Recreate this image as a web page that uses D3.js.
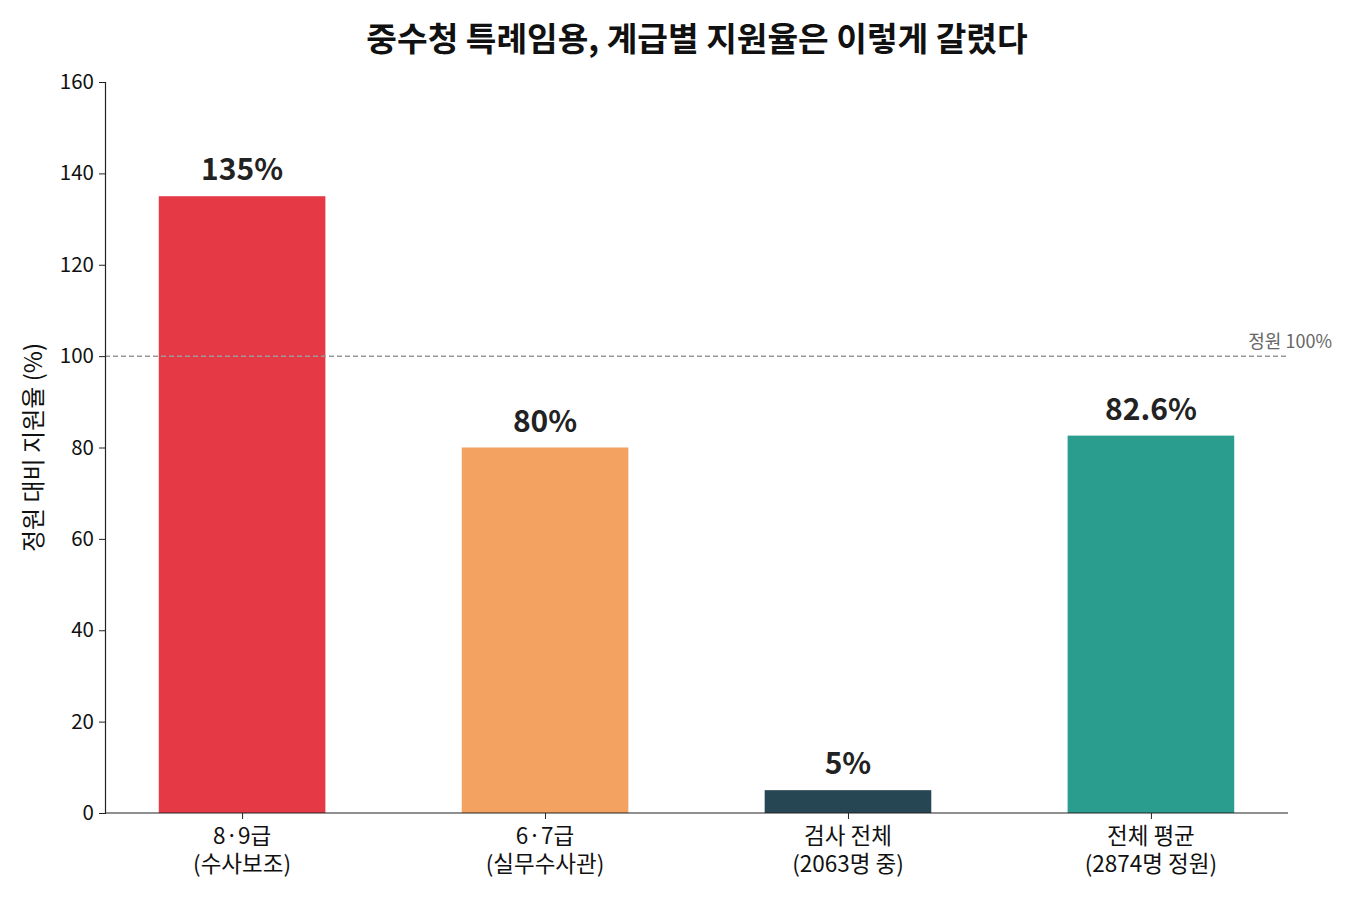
<!DOCTYPE html>
<html><head><meta charset="utf-8">
<script src="https://cdn.jsdelivr.net/npm/d3@7"></script>
<style>body{margin:0;background:#fff;font-family:"Noto Sans CJK KR","Noto Sans",sans-serif;}</style>
</head><body><svg id="c" width="1350" height="900"></svg>
<script>
const categories = [["8·9급","(수사보조)"],["6·7급","(실무수사관)"],["검사 전체","(2063명 중)"],["전체 평균","(2874명 정원)"]];
const values = [135, 80, 5, 82.6];
const valueLabels = ["135%","80%","5%","82.6%"];
const colors = ["#e63946","#f4a261","#264653","#2a9d8f"];
const yTicks = [0,20,40,60,80,100,120,140,160];
const refValue = 100;

const svg = d3.select("#c");
const L=105,R=1288,T=82,B=813;
const x = d3.scaleLinear().domain([-0.4525,3.4525]).range([L,R]);
const y = d3.scaleLinear().domain([0,160]).range([B,T]);
const bw = x(0.55)-x(0);
const font = '"Noto Sans CJK KR","Noto Sans",sans-serif';

svg.append("text").attr("x",697).attr("y",51).attr("text-anchor","middle")
  .attr("font-family",font).attr("font-weight","bold").attr("font-size",33.3).attr("fill","#111")
  .text("중수청 특례임용, 계급별 지원율은 이렇게 갈렸다");

svg.selectAll("rect.bar").data(values).enter().append("rect")
  .attr("x",(d,i)=>x(i)-bw/2).attr("width",bw)
  .attr("y",d=>y(d)).attr("height",d=>y(0)-y(d))
  .attr("fill",(d,i)=>colors[i]);

svg.append("line").attr("x1",L).attr("x2",1286).attr("y1",y(refValue)).attr("y2",y(refValue))
  .attr("stroke","#999").attr("stroke-width",1.5).attr("stroke-dasharray","5,3");
svg.append("text").attr("x",1332).attr("y",y(refValue)-8).attr("text-anchor","end")
  .attr("font-family",font).attr("font-size",18).attr("fill","#666").text("정원 "+refValue+"%");

svg.selectAll("text.vl").data(values).enter().append("text")
  .attr("x",(d,i)=>x(i)).attr("y",d=>y(d)-16).attr("text-anchor","middle")
  .attr("font-family",font).attr("font-weight","bold").attr("font-size",30).attr("fill","#222")
  .text((d,i)=>valueLabels[i]);

const ya = svg.append("g").attr("transform",`translate(${L},0)`)
  .call(d3.axisLeft(y).tickValues(yTicks).tickSize(6).tickPadding(5));
ya.selectAll("text").attr("font-family",font).attr("font-size",20.5).attr("fill","#111");
ya.select(".domain").attr("stroke","#222").attr("stroke-width",1.2);
ya.selectAll(".tick line").attr("stroke","#222");

const xa = svg.append("g").attr("transform",`translate(0,${B})`)
  .call(d3.axisBottom(x).tickValues([0,1,2,3]).tickSize(6).tickFormat(""));
xa.select(".domain").attr("d",`M${L},0H${R}`).attr("stroke","#222").attr("stroke-width",1.2);
xa.selectAll(".tick line").attr("stroke","#222");
categories.forEach((c,i)=>{
  const g = svg.append("g");
  g.append("text").attr("x",x(i)).attr("y",B+31).attr("text-anchor","middle")
    .attr("font-family",font).attr("font-size",22.5).attr("fill","#111").text(c[0]);
  g.append("text").attr("x",x(i)).attr("y",B+59).attr("text-anchor","middle")
    .attr("font-family",font).attr("font-size",22.5).attr("fill","#111").text(c[1]);
});

svg.append("text").attr("transform",`translate(42,${(T+B)/2}) rotate(-90)`).attr("text-anchor","middle")
  .attr("font-family",font).attr("font-size",24).attr("fill","#111").text("정원 대비 지원율 (%)");
</script></body></html>
